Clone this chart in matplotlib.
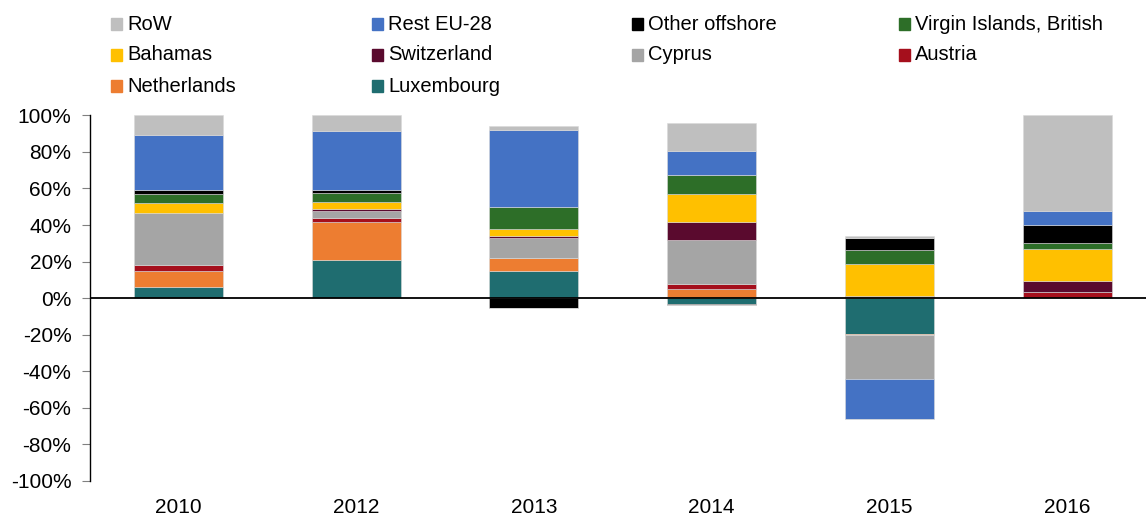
import matplotlib
matplotlib.use("Agg")
import matplotlib.pyplot as plt
import numpy as np
from matplotlib.patches import Rectangle

plt.rcParams['font.family'] = ['Liberation Sans', 'DejaVu Sans']

years = ['2010', '2012', '2013', '2014', '2015', '2016']

# stacking order, bottom to top (values in %)
luxembourg  = [6.2, 21.1, 14.8, -3.1, -19.7, 0.0]
netherlands = [8.9, 20.6, 7.2, 4.9, -0.7, 0.0]
austria     = [2.9, 2.2, 0.0, 3.1, 0.8, 3.5]
cyprus      = [28.6, 4.0, 10.8, 23.9, -24.0, 0.0]
switzerland = [0.0, 0.7, 1.1, 10.0, 0.6, 5.8]
bahamas     = [5.5, 4.2, 3.8, 15.3, 17.3, 17.6]
virgin_isl  = [5.1, 4.9, 12.0, 10.4, 7.7, 3.3]
other_off   = [2.2, 1.3, -5.6, -0.7, 6.5, 10.0]
rest_eu28   = [29.6, 32.6, 42.3, 12.7, -21.7, 7.5]
row_        = [11.0, 8.4, 2.2, 15.7, 1.1, 52.3]

series_names = ['Luxembourg', 'Netherlands', 'Austria', 'Cyprus', 'Switzerland',
                'Bahamas', 'Virgin Islands, British', 'Other offshore', 'Rest EU-28', 'RoW']
series_vals = [luxembourg, netherlands, austria, cyprus, switzerland,
               bahamas, virgin_isl, other_off, rest_eu28, row_]
colors = ['#1F6D70', '#ED7D31', '#A50F1C', '#A5A5A5', '#5A0A2E',
          '#FFC000', '#2D6E28', '#000000', '#4472C4', '#BFBFBF']

legend_rows = [['RoW', 'Rest EU-28', 'Other offshore', 'Virgin Islands, British'],
               ['Bahamas', 'Switzerland', 'Cyprus', 'Austria'],
               ['Netherlands', 'Luxembourg']]

W, H = 1146, 516
fig = plt.figure(figsize=(W / 100, H / 100), dpi=100)
left_px, right_px, top_px, bot_px = 89.5, 1156.0, 115.3, 481.0
ax = fig.add_axes([left_px / W, 1 - bot_px / H, (right_px - left_px) / W, (bot_px - top_px) / H])

x = np.arange(len(years))
pos_base = np.zeros(len(years))
neg_base = np.zeros(len(years))
for name, vals, c in zip(series_names, series_vals, colors):
    v = np.array(vals, dtype=float)
    pos = np.where(v > 0, v, 0)
    neg = np.where(v < 0, v, 0)
    ax.bar(x, pos, 0.5, bottom=pos_base, color=c, edgecolor='#d9d9d9', linewidth=0.4)
    ax.bar(x, neg, 0.5, bottom=neg_base, color=c, edgecolor='#d9d9d9', linewidth=0.4)
    pos_base += pos
    neg_base += neg

ax.axhline(0, color='black', linewidth=1.3, zorder=5)
ax.set_xlim(-0.5, len(years) - 0.5)
ax.set_ylim(-100, 100)
ax.set_yticks(np.arange(-100, 101, 20))
ax.set_yticklabels([f'{t}%' for t in range(-100, 101, 20)])
ax.set_xticks(x)
ax.set_xticklabels(years)
ax.tick_params(axis='y', direction='out', length=6, width=0.8, color='#808080', labelsize=15, pad=7)
ax.tick_params(axis='x', length=0, labelsize=15, pad=12)
for s in ['top', 'right', 'bottom']:
    ax.spines[s].set_visible(False)
ax.spines['left'].set_linewidth(1.0)
ax.spines['left'].set_color('black')

# legend (manual, row-major)
col_x = [111, 372, 632, 899]
row_y = [24, 55, 86]
cmap = dict(zip(series_names, colors))
for r, names in enumerate(legend_rows):
    for cidx, nm in enumerate(names):
        x0 = col_x[cidx]
        y0 = row_y[r]
        fig.add_artist(Rectangle((x0 / W, 1 - (y0 + 5.5) / H), 11 / W, 11 / H,
                                 transform=fig.transFigure, color=cmap[nm]))
        fig.text((x0 + 16) / W, 1 - y0 / H, nm, fontsize=14.5, va='center', ha='left')

fig.savefig('out.png', dpi=100)
